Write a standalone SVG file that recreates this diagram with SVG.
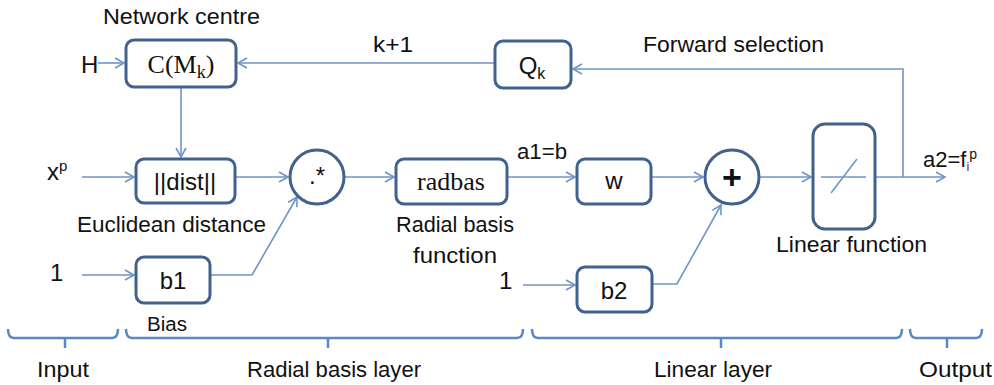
<svg xmlns="http://www.w3.org/2000/svg" width="994" height="385" viewBox="0 0 994 385">
<style>
.box{fill:#fff;stroke:#41628E;stroke-width:3}
.ln{fill:none;stroke:#6F95C8;stroke-width:1.6}
.br{fill:none;stroke:#5B87C3;stroke-width:2.5}
.t{font-family:"Liberation Sans",Arial,sans-serif;font-size:22px;fill:#111}
.b{font-family:"Liberation Sans",Arial,sans-serif;font-size:24px;fill:#111}
.s{font-family:"Liberation Serif","Times New Roman",serif;font-size:26px;fill:#111}
.m{text-anchor:middle}
</style>
<defs>
<marker id="ah" markerWidth="12" markerHeight="12" refX="10" refY="6" orient="auto" markerUnits="userSpaceOnUse">
<path d="M1,1 L10,6 L1,11" fill="none" stroke="#6F95C8" stroke-width="1.6"/>
</marker>
</defs>
<rect width="994" height="385" fill="#fff"/>

<g id="connectors">
<line class="ln" x1="98" y1="63" x2="124" y2="63" marker-end="url(#ah)"/>
<line class="ln" x1="495" y1="63" x2="238" y2="63" marker-end="url(#ah)"/>
<polyline class="ln" points="903,177 903,69 573,69" marker-end="url(#ah)"/>
<line class="ln" x1="181" y1="87" x2="181" y2="157" marker-end="url(#ah)"/>
<line class="ln" x1="82" y1="177" x2="134" y2="177" marker-end="url(#ah)"/>
<line class="ln" x1="82" y1="275" x2="134" y2="275" marker-end="url(#ah)"/>
<line class="ln" x1="235" y1="177" x2="288" y2="177" marker-end="url(#ah)"/>
<polyline class="ln" points="210,275 252,275 297,197" marker-end="url(#ah)"/>
<line class="ln" x1="344" y1="177" x2="394" y2="177" marker-end="url(#ah)"/>
<line class="ln" x1="507" y1="177" x2="575" y2="177" marker-end="url(#ah)"/>
<line class="ln" x1="651" y1="177" x2="703" y2="177" marker-end="url(#ah)"/>
<line class="ln" x1="523" y1="285" x2="575" y2="285" marker-end="url(#ah)"/>
<polyline class="ln" points="652,284 677,284 721,205" marker-end="url(#ah)"/>
<line class="ln" x1="760" y1="177" x2="811" y2="177" marker-end="url(#ah)"/>
<line class="ln" x1="875" y1="177" x2="945" y2="177" marker-end="url(#ah)"/>
</g>

<g id="network-centre">
<text class="t" x="103" y="24" textLength="157" lengthAdjust="spacingAndGlyphs">Network centre</text>
<rect class="box" x="126" y="40" width="110" height="47" rx="8"/>
<text class="s m" x="181" y="73">C(M<tspan font-size="18" dy="5">k</tspan><tspan dy="-5">)</tspan></text>
</g>
<g id="input-H"><text class="b" x="81" y="73">H</text></g>
<g id="label-k1"><text class="t" x="373" y="52" textLength="40" lengthAdjust="spacingAndGlyphs">k+1</text></g>
<g id="Qk">
<rect class="box" x="495" y="41" width="76" height="47" rx="8"/>
<text class="b m" x="532" y="74">Q<tspan font-size="16" dy="5">k</tspan></text>
</g>
<g id="label-forward"><text class="t" x="643" y="52" textLength="181" lengthAdjust="spacingAndGlyphs">Forward selection</text></g>

<g id="input-x"><text class="b" x="47" y="180">x<tspan font-size="15" dy="-9">p</tspan></text></g>
<g id="dist">
<rect class="box" x="136" y="159" width="99" height="44" rx="8"/>
<text class="b m" x="185" y="190">||dist||</text>
<text class="t" x="77" y="232" textLength="189" lengthAdjust="spacingAndGlyphs">Euclidean distance</text>
</g>
<g id="input-1a"><text class="b" x="50" y="281">1</text></g>
<g id="b1">
<rect class="box" x="136" y="257" width="74" height="46" rx="8"/>
<text class="b m" x="173" y="289">b1</text>
<text class="t" x="147" y="331" style="font-size:20px" textLength="40" lengthAdjust="spacingAndGlyphs">Bias</text>
</g>
<g id="mult">
<circle class="box" cx="317" cy="177" r="27"/>
<text class="b m" x="317" y="184">.*</text>
</g>
<g id="radbas">
<rect class="box" x="396" y="159" width="111" height="45" rx="8"/>
<text class="s m" x="451" y="190">radbas</text>
<text class="t" x="396" y="232" textLength="118" lengthAdjust="spacingAndGlyphs">Radial basis</text>
<text class="t" x="413" y="263" textLength="84" lengthAdjust="spacingAndGlyphs">function</text>
</g>
<g id="label-a1"><text class="t" x="517" y="159" textLength="50" lengthAdjust="spacingAndGlyphs">a1=b</text></g>
<g id="w">
<rect class="box" x="577" y="159" width="74" height="45" rx="8"/>
<text class="b m" x="614" y="189">w</text>
</g>
<g id="input-1b"><text class="b" x="499" y="289">1</text></g>
<g id="b2">
<rect class="box" x="577" y="267" width="75" height="45" rx="8"/>
<text class="b m" x="614" y="299">b2</text>
</g>
<g id="sum">
<circle class="box" cx="732" cy="177" r="27"/>
<text class="b m" x="732" y="189" style="font-size:34px;font-weight:bold">+</text>
</g>
<g id="linear">
<rect class="box" x="813" y="124" width="62" height="105" rx="12"/>
<line class="ln" x1="821" y1="177" x2="866" y2="177"/>
<line class="ln" x1="831" y1="193" x2="857" y2="159"/>
<text class="t" x="776" y="252" textLength="151" lengthAdjust="spacingAndGlyphs">Linear function</text>
</g>
<g id="output-label"><text class="t" x="923" y="167">a2=f<tspan font-size="13" dy="4" fill="#8B1A3A">i</tspan><tspan font-size="14" dy="-12">p</tspan></text></g>

<g id="braces">
<path class="br" d="M8,329 Q8,338 14,338 H112 Q118,338 118,329 M65,338 V348"/>
<path class="br" d="M126,329 Q126,338 132,338 H517 Q523,338 523,329 M328,338 V348"/>
<path class="br" d="M532,329 Q532,338 538,338 H896 Q902,338 902,329 M721,338 V348"/>
<path class="br" d="M910,329 Q910,338 916,338 H976 Q982,338 982,329 M947,338 V348"/>
<text class="t" x="37" y="377" textLength="52" lengthAdjust="spacingAndGlyphs">Input</text>
<text class="t" x="247" y="377" textLength="174" lengthAdjust="spacingAndGlyphs">Radial basis layer</text>
<text class="t" x="654" y="377" textLength="118" lengthAdjust="spacingAndGlyphs">Linear layer</text>
<text class="t" x="919" y="377" textLength="73" lengthAdjust="spacingAndGlyphs">Output</text>
</g>
</svg>
